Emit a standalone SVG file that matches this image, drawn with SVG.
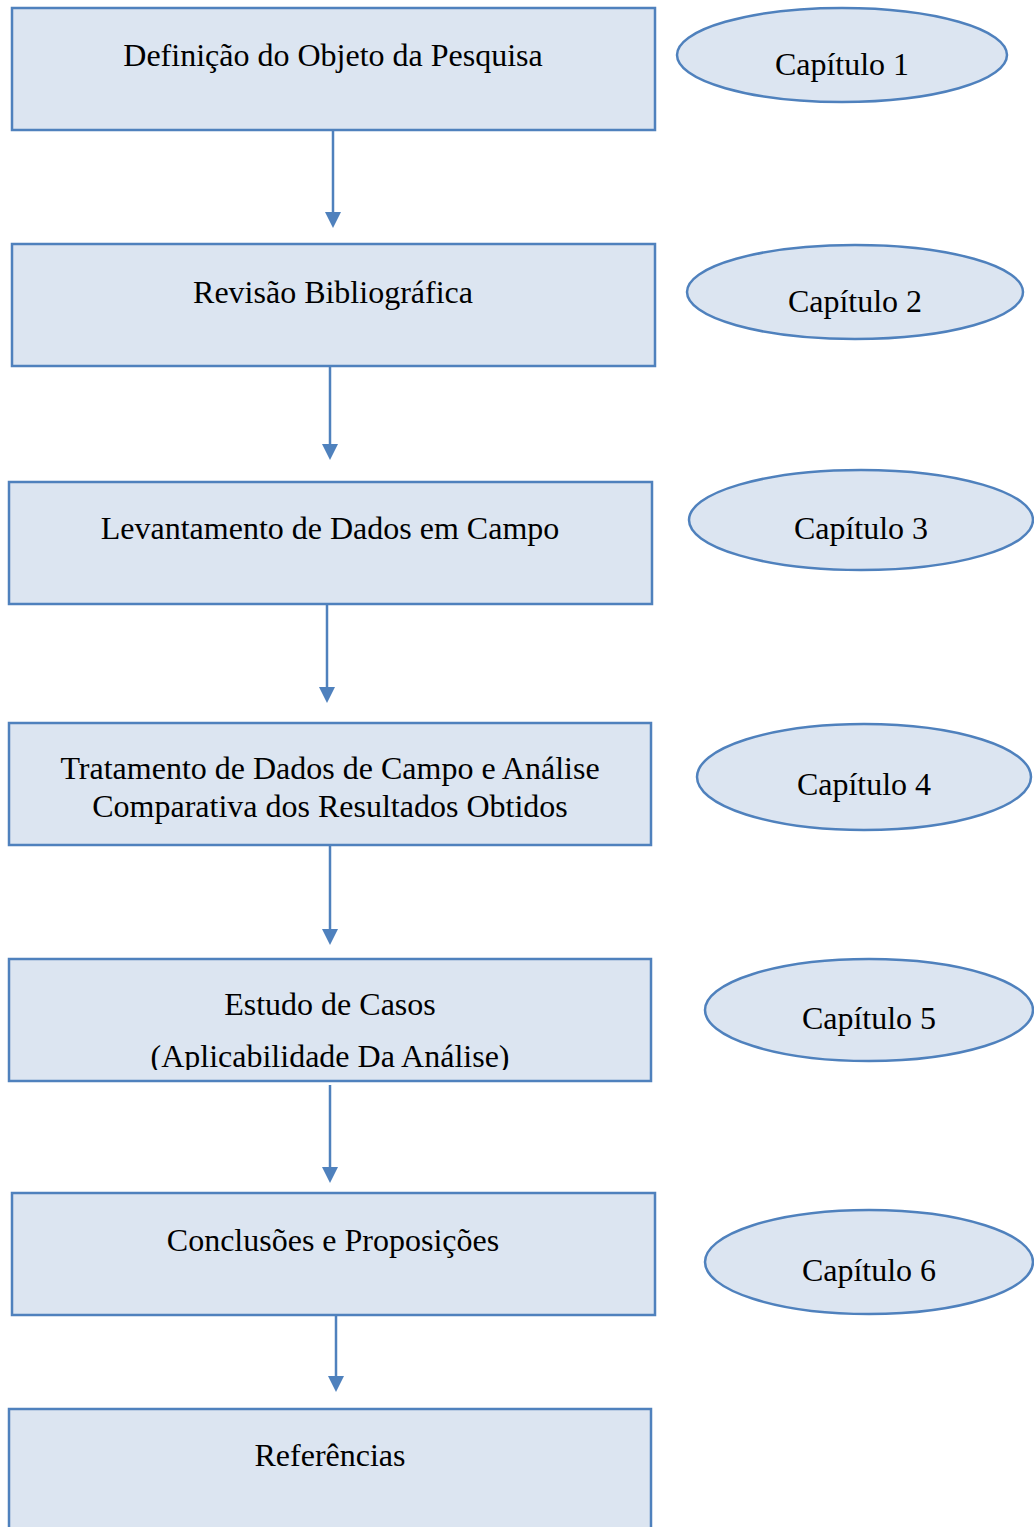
<svg xmlns="http://www.w3.org/2000/svg" width="1034" height="1527" viewBox="0 0 1034 1527">
<style>
.box{fill:#DCE5F1;stroke:#4F81BD;stroke-width:2.5}
.ell{fill:#DCE5F1;stroke:#4F81BD;stroke-width:2.5}
.t{font-family:'Liberation Serif',serif;font-size:32px;fill:#000;text-anchor:middle}
.c{stroke:#4F81BD;stroke-width:2.5;fill:none}
.h{fill:#4F81BD}
</style>
<defs>
<clipPath id="clip5"><rect x="0" y="950" width="700" height="120"/></clipPath>
</defs>
<rect width="1034" height="1527" fill="#fff"/>
<g id="connectors">
<line class="c" x1="333" y1="131" x2="333" y2="213"/>
<path class="h" d="M325,212 L341,212 L333,228 Z"/>
<line class="c" x1="330" y1="364" x2="330" y2="445"/>
<path class="h" d="M322,444 L338,444 L330,460 Z"/>
<line class="c" x1="327" y1="605" x2="327" y2="688"/>
<path class="h" d="M319,687 L335,687 L327,703 Z"/>
<line class="c" x1="330" y1="846" x2="330" y2="930"/>
<path class="h" d="M322,929 L338,929 L330,945 Z"/>
<line class="c" x1="330" y1="1085" x2="330" y2="1168"/>
<path class="h" d="M322,1167 L338,1167 L330,1183 Z"/>
<line class="c" x1="336" y1="1316" x2="336" y2="1377"/>
<path class="h" d="M328,1376 L344,1376 L336,1392 Z"/>
</g>
<g id="box1"><rect class="box" x="12" y="8" width="643" height="122"/><text class="t" font-family="Liberation Serif" x="333" y="66">Definição do Objeto da Pesquisa</text></g>
<g id="box2"><rect class="box" x="12" y="244" width="643" height="122"/><text class="t" font-family="Liberation Serif" x="333" y="303">Revisão Bibliográfica</text></g>
<g id="box3"><rect class="box" x="9" y="482" width="643" height="122"/><text class="t" font-family="Liberation Serif" x="330" y="539">Levantamento de Dados em Campo</text></g>
<g id="box4"><rect class="box" x="9" y="723" width="642" height="122"/><text class="t" font-family="Liberation Serif" x="330" y="779">Tratamento de Dados de Campo e Análise</text><text class="t" font-family="Liberation Serif" x="330" y="817">Comparativa dos Resultados Obtidos</text></g>
<g id="box5"><rect class="box" x="9" y="959" width="642" height="122"/><text class="t" font-family="Liberation Serif" x="330" y="1015">Estudo de Casos</text><text class="t" font-family="Liberation Serif" x="330" y="1067" clip-path="url(#clip5)">(Aplicabilidade Da Análise)</text></g>
<g id="box6"><rect class="box" x="12" y="1193" width="643" height="122"/><text class="t" font-family="Liberation Serif" x="333" y="1251">Conclusões e Proposições</text></g>
<g id="box7"><rect class="box" x="9" y="1409" width="642" height="140"/><text class="t" font-family="Liberation Serif" x="330" y="1466">Referências</text></g>
<g id="cap1"><ellipse class="ell" cx="842" cy="55" rx="165" ry="47"/><text class="t" font-family="Liberation Serif" x="842" y="75">Capítulo 1</text></g>
<g id="cap2"><ellipse class="ell" cx="855" cy="292" rx="168" ry="47"/><text class="t" font-family="Liberation Serif" x="855" y="312">Capítulo 2</text></g>
<g id="cap3"><ellipse class="ell" cx="861" cy="520" rx="172" ry="50"/><text class="t" font-family="Liberation Serif" x="861" y="539">Capítulo 3</text></g>
<g id="cap4"><ellipse class="ell" cx="864" cy="777" rx="167" ry="53"/><text class="t" font-family="Liberation Serif" x="864" y="795">Capítulo 4</text></g>
<g id="cap5"><ellipse class="ell" cx="869" cy="1010" rx="164" ry="51"/><text class="t" font-family="Liberation Serif" x="869" y="1029">Capítulo 5</text></g>
<g id="cap6"><ellipse class="ell" cx="869" cy="1262" rx="164" ry="52"/><text class="t" font-family="Liberation Serif" x="869" y="1281">Capítulo 6</text></g>
</svg>
